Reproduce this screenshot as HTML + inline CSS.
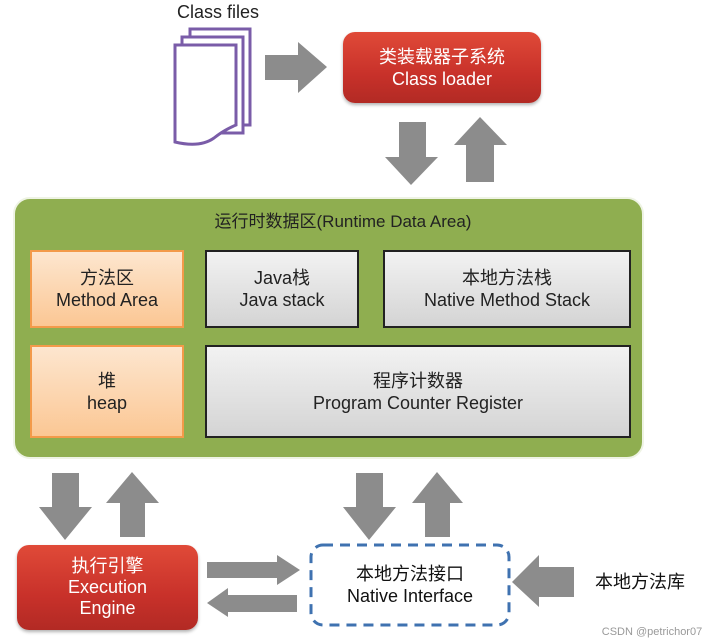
<!DOCTYPE html>
<html><head><meta charset="utf-8"><style>
body{margin:0;width:719px;height:644px;background:#fff;position:relative;overflow:hidden;font-family:"Liberation Sans","Noto Sans CJK SC",sans-serif;}
.a{position:absolute;box-sizing:border-box;display:flex;flex-direction:column;align-items:center;justify-content:center;text-align:center;line-height:22px;font-size:18px;}
.red{background:linear-gradient(#e04a38,#c8312a 60%,#b22a24);color:#fff;border-radius:12px;box-shadow:0 2px 3px rgba(0,0,0,.3);}
.or{background:linear-gradient(#fde6cf,#fbc794);border:2px solid #f39a4a;color:#222;}
.gr{background:linear-gradient(#f2f2f2,#d4d4d4);border:2px solid #222;color:#222;}
</style></head><body>
<svg width="719" height="644" style="position:absolute;left:0;top:0">
<g fill="#8c8c8c">
<polygon points="265,55 298,55 298,42 327,67 298,93 298,80 265,80"/>
<polygon points="399,122 426,122 426,157 438,157 411,185 385,157 399,157"/>
<polygon points="466,182 494,182 494,145 507,145 480,117 454,145 466,145"/>
<polygon points="52,473 79,473 79,507 92,507 65,540 39,507 52,507"/>
<polygon points="120,537 145,537 145,503 159,503 132,472 106,503 120,503"/>
<polygon points="356,473 383,473 383,507 396,507 369,540 343,507 356,507"/>
<polygon points="425,537 450,537 450,503 463,503 437,472 412,503 425,503"/>
<polygon points="207,562 277,562 277,555 300,570 277,585 277,578 207,578"/>
<polygon points="297,595 228,595 228,588 207,603 228,617 228,612 297,612"/>
<polygon points="574,567 539,567 539,555 512,582 539,607 539,597 574,597"/>
</g>
<g fill="#fff" stroke="#7a5ca8" stroke-width="3">
<path d="M190,29 L250,29 L250,125 L190,125 Z"/>
<path d="M182,37 L243,37 L243,133 L182,133 Z"/>
<path d="M175,45 L236,45 L236,125 Q224,130 214,138 Q200,148 175,142 Z"/>
</g>
<rect x="14" y="198" width="629" height="260" rx="16" fill="#8fae50" stroke="#eef3e4" stroke-width="2"/>
<rect x="311" y="545" width="198" height="80" rx="12" fill="#fff" stroke="#3f72b0" stroke-width="3" stroke-dasharray="10,7"/>
</svg>
<div class="a" style="left:168px;top:1px;width:100px;height:22px;font-size:18px;color:#222">Class files</div>
<div class="a red" style="left:343px;top:32px;width:198px;height:71px;">类装载器子系统<br>Class loader</div>
<div class="a" style="left:14px;top:210px;width:672px;height:24px;font-size:17px;color:#222;">
<span style="position:relative;left:-7px">运行时数据区(Runtime Data Area)</span></div>
<div class="a or" style="left:30px;top:250px;width:154px;height:78px;">方法区<br>Method Area</div>
<div class="a gr" style="left:205px;top:250px;width:154px;height:78px;">Java栈<br>Java stack</div>
<div class="a gr" style="left:383px;top:250px;width:248px;height:78px;">本地方法栈<br>Native Method Stack</div>
<div class="a or" style="left:30px;top:345px;width:154px;height:93px;">堆<br>heap</div>
<div class="a gr" style="left:205px;top:345px;width:426px;height:93px;">程序计数器<br>Program Counter Register</div>
<div class="a red" style="left:17px;top:545px;width:181px;height:85px;line-height:21px;">执行引擎<br>Execution<br>Engine</div>
<div class="a" style="left:311px;top:545px;width:198px;height:80px;color:#111;">本地方法接口<br>Native Interface</div>
<div class="a" style="left:585px;top:570px;width:110px;height:24px;color:#111;">本地方法库</div>
<div class="a" style="left:592px;top:623px;width:120px;height:18px;font-size:11px;color:#999;">CSDN @petrichor07</div>
</body></html>
